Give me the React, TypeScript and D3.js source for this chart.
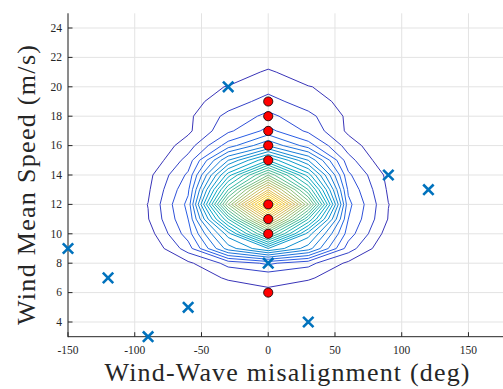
import React from "react";
import * as d3 from "d3";

// ---- data ----
const misalignCols = [-120, -90, -60, -30, 0, 30, 60, 90, 120];
const speedRows = [5, 6, 7, 8, 9, 10, 11, 12, 13, 14, 15, 16, 17, 18, 19, 20, 21, 22];
// joint occurrence (relative units) on the grid: rows = speedRows, cols = misalignCols
const row05 = [0, 0, 0, 0, 0, 0, 0, 0, 0];
const row06 = [0, 0, 0, 0.26, 0.89, 0.26, 0, 0, 0];
const row07 = [0, 0, 0.3, 1.14, 1.2, 1.14, 0.3, 0, 0];
const row08 = [0, 0, 0.8, 2.3, 3.2, 2.3, 0.8, 0, 0];
const row09 = [0, 0, 2.5, 7.5, 10, 7.5, 2.5, 0, 0];
const row10 = [0, 0.5, 3.5, 9.5, 17, 9.5, 3.5, 0.5, 0];
const row11 = [0, 0.95, 4, 14, 24, 14, 4, 0.95, 0];
const row12 = [0, 1.02, 4.3, 19, 31, 19, 4.3, 1.02, 0];
const row13 = [0, 0.85, 3.8, 15, 24, 15, 3.8, 0.85, 0];
const row14 = [0, 0.7, 3.2, 11.5, 18, 11.5, 3.2, 0.7, 0];
const row15 = [0, 0.1, 2.4, 8, 12, 8, 2.4, 0.1, 0];
const row16 = [0, 0, 1.5, 4.5, 6.9, 4.5, 1.5, 0, 0];
const row17 = [0, 0, 0.8, 2.8, 4.3, 2.8, 0.8, 0, 0];
const row18 = [0, 0, 0.8, 2.3, 3.26, 2.3, 0.8, 0, 0];
const row19 = [0, 0, 0.69, 1.44, 2.4, 1.44, 0.69, 0, 0];
const row20 = [0, 0, 0.4, 1.07, 1.6, 1.07, 0.4, 0, 0];
const row21 = [0, 0, 0, 0, 1.25, 0, 0, 0, 0];
const row22 = [0, 0, 0, 0, 0, 0, 0, 0, 0];
const densityGrid = [row05, row06, row07, row08, row09, row10, row11, row12, row13, row14, row15, row16, row17, row18, row19, row20, row21, row22];
const contourLevels = [1, 2, 3, 4, 5, 6, 7, 8, 9, 10, 11, 12, 13, 14, 15, 16, 17, 18, 19, 20, 21, 22, 23, 24, 25, 26, 27, 28, 29, 30];

const blueX = [-30, 90, 120, -150, -120, 0, -60, -90, 30];
const blueY = [20, 14, 13, 9, 7, 8, 5, 3, 4];
const redX = [0, 0, 0, 0, 0, 0, 0, 0, 0];
const redY = [19, 18, 17, 16, 15, 12, 11, 10, 6];

const xTicks = [-150, -100, -50, 0, 50, 100, 150];
const yTicks = [4, 6, 8, 10, 12, 14, 16, 18, 20, 22, 24];

const parulaStops = ["#3e26a8", "#2a5ce6", "#1485d4", "#06a7c6", "#38b99e", "#92bf73", "#d9ba56", "#fcce2e", "#f9fb0e"];

const serif = "'Liberation Serif', 'Times New Roman', serif";

export default function App() {
  const W = 503, H = 389;
  const x = d3.scaleLinear().domain([-150, 180]).range([68, 508.5]);
  const y = d3.scaleLinear().domain([3, 25]).range([336.7, 13.3]);
  const parula = d3.piecewise(d3.interpolateRgb, parulaStops);
  const zMax = d3.max(densityGrid.flat()) as number;

  const nx = misalignCols.length, ny = speedRows.length;
  const dxStep = misalignCols[1] - misalignCols[0];
  const dyStep = speedRows[1] - speedRows[0];
  const contours = d3.contours().size([nx, ny]).thresholds(contourLevels)(densityGrid.flat());
  const proj = d3.geoTransform({
    point(px: number, py: number) {
      (this as any).stream.point(
        x(misalignCols[0] + (px - 0.5) * dxStep),
        y(speedRows[0] + (py - 0.5) * dyStep)
      );
    },
  });
  const path = d3.geoPath(proj as any);

  const axisColor = "#262626";
  const [x0, x1] = x.range();
  const [y0, y1] = y.range();
  const txt = { fontFamily: serif };

  return (
    <svg width={W} height={H} style={{ position: "absolute", left: 0, top: 0 }}>
      <rect width={W} height={H} fill="#fff" />
      {/* grid */}
      <g stroke="#e3e3e3" strokeWidth={1}>
        {xTicks.map((t) => (
          <line key={"gx" + t} x1={x(t)} x2={x(t)} y1={y1} y2={y0} />
        ))}
        {yTicks.map((t) => (
          <line key={"gy" + t} x1={x0} x2={x1} y1={y(t)} y2={y(t)} />
        ))}
      </g>
      {/* contours */}
      <g fill="none" strokeWidth={1}>
        {contours.map((c, i) => (
          <path key={"c" + i} d={path(c as any) || ""} stroke={parula(c.value / zMax)} />
        ))}
      </g>
      {/* axes */}
      <g stroke={axisColor} strokeWidth={1}>
        <line x1={x0} x2={x0} y1={y1} y2={y0 + 0.5} />
        <line x1={x0} x2={x1} y1={y0} y2={y0} />
        {xTicks.map((t) => (
          <line key={"tx" + t} x1={x(t)} x2={x(t)} y1={y0} y2={y0 - 4.5} />
        ))}
        {yTicks.map((t) => (
          <line key={"ty" + t} x1={x0} x2={x0 + 4.5} y1={y(t)} y2={y(t)} />
        ))}
      </g>
      <g fill={axisColor} fontSize={11.5}>
        {xTicks.map((t) => (
          <text key={"lx" + t} x={x(t)} y={354} textAnchor="middle" style={txt}>
            {String(t)}
          </text>
        ))}
        {yTicks.map((t) => (
          <text key={"ly" + t} x={62} y={y(t) + 3.8} textAnchor="end" style={txt}>
            {String(t)}
          </text>
        ))}
      </g>
      <text x={287} y={381} textAnchor="middle" fontSize={26} fill={axisColor} textLength={365} lengthAdjust="spacing" style={txt}>
        Wind-Wave misalignment (deg)
      </text>
      <text
        transform={`translate(35,185) rotate(-90)`}
        textAnchor="middle"
        fontSize={26}
        fill={axisColor}
        textLength={280}
        lengthAdjust="spacing"
        style={txt}
      >
        Wind Mean Speed (m/s)
      </text>
      {/* markers */}
      <g stroke="#0072bd" strokeWidth={2.6} fill="none">
        {blueX.map((bx, i) => (
          <path
            key={"b" + i}
            transform={`translate(${x(bx)},${y(blueY[i])})`}
            d="M-5.2,-5.2L5.2,5.2M-5.2,5.2L5.2,-5.2"
          />
        ))}
      </g>
      <g fill="#ff0000" stroke="#000" strokeWidth={0.8}>
        {redX.map((rx, i) => (
          <circle key={"r" + i} cx={x(rx)} cy={y(redY[i])} r={4.6} />
        ))}
      </g>
    </svg>
  );
}
